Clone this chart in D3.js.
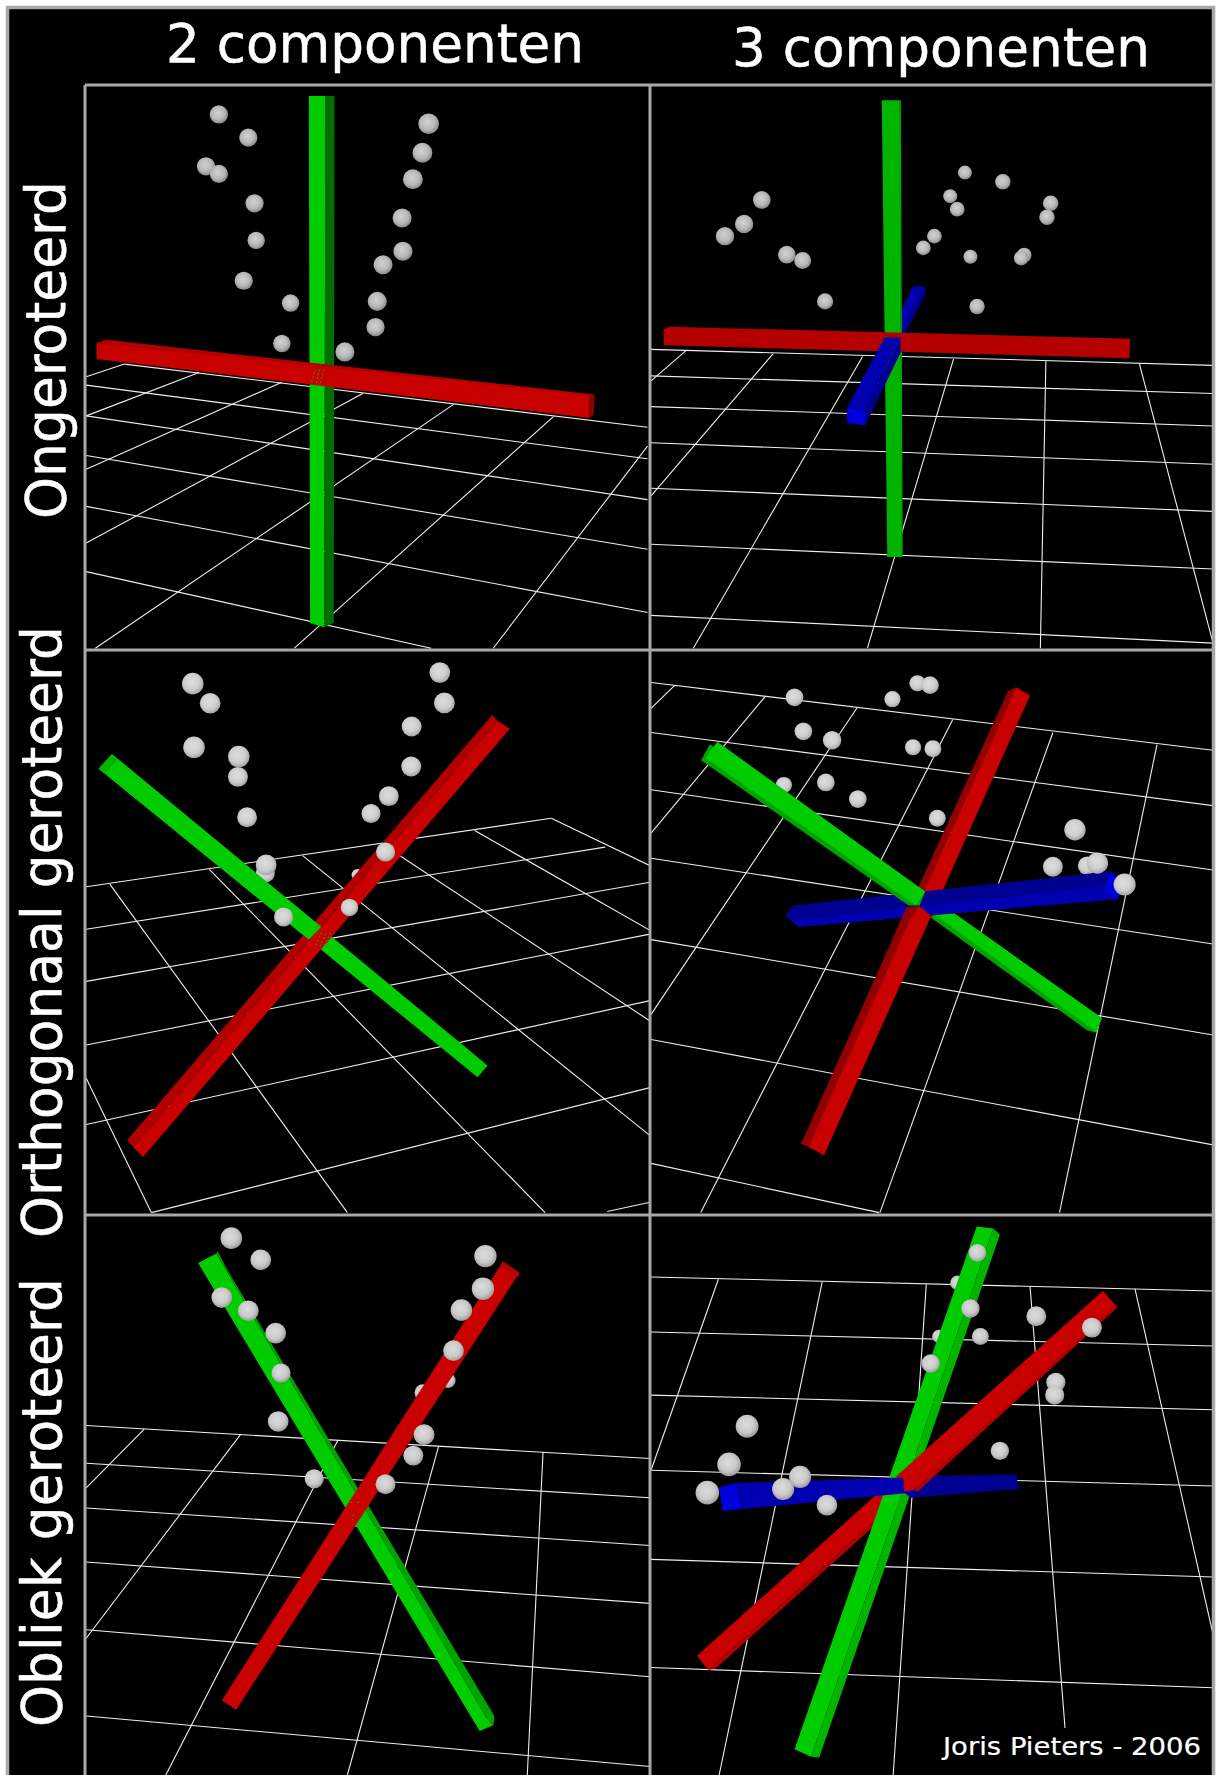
<!DOCTYPE html>
<html>
<head>
<meta charset="utf-8">
<script src="https://cdn.jsdelivr.net/npm/d3@7"></script>
<style>
  html, body { margin: 0; padding: 0; background: #fff; }
  svg { display: block; }
  text { font-family: "DejaVu Sans", sans-serif; fill: #fff; stroke: #fff; stroke-width: 0.5px; }
</style>
</head>
<body>
<div id="chart"></div>
<script>
var colLabels = ["2 componenten", "3 componenten"];
var rowLabels = ["Ongeroteerd", "Orthogonaal geroteerd", "Obliek geroteerd"];
var credit = "Joris Pieters - 2006";

// spheres: [x, y, r]
var back00 = [];
var front00 = [[528,272,22],[599,327,22],[497,395,22],[528,413,22],[614,483,22],[618,571,21],[588,667,22],[701,720,21],[680,816,21],[832,836,23],[906,777,22],[910,716,23],[924,629,23],[972,597,23],[970,518,23],[996,426,24],[1019,363,24],[1034,294,25]];
var back01 = [];
var front01 = [[331,475,24],[283,532,25],[231,561,25],[399,605,24],[442,619,23],[503,716,22],[883,410,19],[986,432,21],[843,466,19],[862,497,20],[1116,483,21],[1106,516,21],[800,561,20],[770,589,20],[898,610,19],[1044,606,20],[1036,613,20],[916,728,21]];
var back10 = [[640,630,23],[642,608,25],[862,635,14]];
var front10 = [[465,118,26],[507,171,25],[1061,88,25],[1072,170,25],[468,290,26],[576,315,26],[574,370,24],[993,234,24],[992,342,24],[938,422,24],[895,469,23],[596,479,24],[930,573,23],[843,723,21],[684,749,23]];
var back11 = [[391,392,22],[1215,610,25]];
var front11 = [[420,155,24],[686,160,22],[754,117,22],[788,122,24],[444,247,24],[522,271,25],[742,290,22],[796,294,23],[505,385,24],[592,430,24],[808,482,23],[1182,513,29],[1122,613,27],[1243,603,29],[1317,661,30]];
var back20 = [[1081,492,18],[1020,525,20]];
var front20 = [[558,104,26],[629,163,25],[535,266,25],[599,302,25],[665,363,25],[678,472,23],[671,604,25],[758,760,23],[1171,153,27],[1165,242,27],[1113,300,26],[1094,411,25],[1023,640,25],[997,697,24],[930,775,24]];
var back21 = [[863,226,20],[812,372,18]];
var front21 = [[917,144,24],[898,296,25],[1077,317,27],[925,372,23],[790,446,25],[1228,348,27],[1130,497,26],[1127,532,26],[291,617,31],[242,721,32],[183,798,32],[978,684,25],[508,832,28],[435,755,30],[389,788,30]];

// floor grid: [x1, y1, x2, y2]
var grid00 = [[300,865,1562,1015],[208,915,1562,1090],[208,988,1562,1187],[208,1082,1562,1305],[208,1203,1562,1455],[208,1358,1040,1540],
  [208,895,300,865],[208,988,480,885],[208,1115,680,908],[208,1290,875,935],[230,1540,1095,960],[710,1540,1335,990],[1190,1540,1562,1060]];
var grid01 = [[30,830,1558,868],[30,893,1558,935],[30,966,1558,1012],[30,1052,1558,1103],[30,1160,1558,1215],[30,1293,1558,1352],[30,1462,1558,1528],
  [30,905,125,833],[30,1178,362,840],[145,1540,605,847],[618,1540,852,853],[1088,1540,1103,858],[1558,1530,1357,864]];
var grid10 = [[208,667,1330,482],[208,782,1460,560],[208,923,1568,655],[208,1095,1568,795],[208,1310,1568,975],[365,1548,1568,1210],[1465,1545,1568,1520],
  [1330,482,1568,610],[1145,515,1568,785],[920,550,1568,1030],[730,583,1568,1340],[505,620,1315,1548],[265,660,838,1548],[208,1185,365,1548]];
var grid11 = [[30,115,1558,298],[30,250,1558,448],[30,405,1558,622],[30,590,1558,822],[30,810,1558,1068],[30,1080,1558,1365],[30,1415,650,1548],
  [30,185,95,122],[30,522,340,153],[30,1012,590,183],[165,1548,850,215],[652,1548,1122,250],[1140,1548,1405,283]];
var grid20 = [[208,615,1568,705],[208,718,1568,812],[208,840,1568,942],[208,987,1568,1100],[208,1172,1568,1300],[208,1407,1568,1545],
  [208,785,348,625],[208,1195,580,640],[400,1568,815,655],[838,1568,1058,672],[1272,1568,1310,687]];
var grid21 = [[30,210,1558,248],[30,360,1558,398],[30,532,1558,572],[30,737,1558,780],[30,980,1558,1028],[30,1275,1558,1330],
  [30,737,213,216],[215,1568,495,224],[688,1568,778,230],[1155,1440,1060,236],[1558,1188,1345,242]];

// bars: [shade name, polygon], painted in this order
var bars00 = [
  ["green", [[745,228],[785,228],[782,1490],[748,1480]]],
  ["greenDark", [[785,228],[807,228],[805,1480],[782,1490]]],
  ["redMid", [[232,815],[258,807],[1434,937],[1422,943]]],
  ["red", [[233,815],[1422,940],[1422,993],[233,853]]],
  ["redDark", [[1422,940],[1434,937],[1432,985],[1422,993]]]
];
var bars01 = [
  ["blue", [[707,745],[742,680],[772,680],[707,795]]],
  ["blueDark", [[772,680],[775,680],[775,700],[707,815],[707,795]]],
  ["greenMid", [[657,238],[706,238],[711,1323],[672,1323]]],
  ["greenShade", [[705,238],[709,238],[714,1323],[709,1323]]],
  ["redMid", [[64,783],[78,776],[1332,805],[1330,851],[65,820]]],
  ["blue", [[563,968],[665,802],[708,802],[612,975]]],
  ["blueBright", [[563,968],[612,975],[612,1010],[562,1005]]],
  ["blueDark", [[612,975],[708,802],[708,838],[612,1010]]]
];
var bars10 = [
  ["green", [[250,358],[285,325],[1176,1150],[1152,1182]]],
  ["redDim", [[307,1352],[1188,202],[1200,218],[322,1372]]],
  ["red", [[322,1372],[345,1398],[1230,240],[1200,218]]],
  ["green", [[238,348],[270,308],[775,775],[745,810]]],
  ["greenMid", [[238,348],[268,310],[283,324],[252,362]]]
];
var bars11 = [
  ["redDark", [[438,1362],[1000,138],[1022,128],[458,1370]]],
  ["red", [[458,1370],[500,1392],[1060,150],[1022,128]]],
  ["greenShade", [[790,750],[1215,1055],[1240,1062],[1255,1022],[820,715]]],
  ["green", [[795,738],[1222,1046],[1240,1060],[1255,1022],[820,715]]],
  ["blueDark", [[395,745],[415,718],[1280,625],[1300,700],[430,775]]],
  ["blue", [[410,758],[1270,665],[1300,700],[430,775]]],
  ["blueBright", [[1262,680],[1280,625],[1305,650],[1300,700]]],
  ["greenShade", [[166,325],[190,282],[775,680],[760,718],[730,718]]],
  ["green", [[178,318],[210,275],[775,680],[750,718]]],
  ["redDark", [[725,722],[760,720],[750,760],[690,800]]],
  ["red", [[760,720],[790,745],[500,1392],[458,1370],[700,800]]],
  ["redDark", [[438,1362],[725,722],[745,730],[458,1370]]]
];
var bars20 = [
  ["green", [[478,172],[522,146],[1172,1410],[1190,1432],[1157,1448]]],
  ["greenShade", [[525,140],[548,190],[1193,1408],[1190,1432],[1172,1410],[522,146]]],
  ["red", [[535,1365],[1213,168],[1253,198],[570,1390]]],
  ["redMid", [[1213,168],[1253,198],[1250,210],[1205,185]]]
];
var bars21 = [
  ["red", [[155,1243],[1258,248],[1292,288],[185,1282]]],
  ["redDim", [[185,1282],[1292,288],[1298,292],[205,1278]]],
  ["green", [[915,72],[960,78],[465,1518],[420,1498]]],
  ["greenMid", [[960,78],[978,95],[487,1520],[465,1518]]],
  ["blueDark", [[700,755],[1022,748],[1030,788],[735,812],[720,800]]],
  ["blue", [[215,785],[258,772],[715,757],[720,800],[225,848]]],
  ["blueBright", [[215,785],[258,772],[275,840],[225,848]]],
  ["red", [[695,755],[1258,248],[1292,288],[745,790],[718,795],[715,758]]],
  ["redDim", [[745,790],[1292,288],[1298,292],[755,795]]]
];

// green bleeding through where two bars meet: [x1, y1, x2, y2]
var bleed00 = [[752,908,760,878],[763,910,771,878],[773,910,781,878]];
var bleed01 = [];
var bleed10 = [[762,825,778,785],[772,828,788,788],[782,825,798,792]];
var bleed11 = [];
var bleed20 = [[845,825,850,825],[862,825,868,825],[850,860,856,858],[848,872,854,870]];
var bleed21 = [];

var barFill = {
  green: "#00cc00", greenMid: "#00b400", greenShade: "#00a400", greenDark: "#006f00",
  red: "#c80000", redMid: "#b40000", redDim: "#b00000", redDark: "#900000",
  blue: "#0000b0", blueDark: "#000090", blueBright: "#0000dc"
};

var width = 1217, height = 1775;
var colX = [85, 650, 1213], rowY = [85, 650, 1215, 1775];

// crop each reading grid stands for
var cells = [
  {crop: [0, 0, 650, 660], col: 0, row: 0, grid: grid00, bars: bars00, back: back00, front: front00, bleed: bleed00},
  {crop: [640, 0, 577, 660], col: 1, row: 0, grid: grid01, bars: bars01, back: back01, front: front01, bleed: bleed01},
  {crop: [0, 640, 650, 580], col: 0, row: 1, grid: grid10, bars: bars10, back: back10, front: front10, bleed: bleed10},
  {crop: [640, 640, 577, 580], col: 1, row: 1, grid: grid11, bars: bars11, back: back11, front: front11, bleed: bleed11},
  {crop: [0, 1200, 650, 575], col: 0, row: 2, grid: grid20, bars: bars20, back: back20, front: front20, bleed: bleed20},
  {crop: [640, 1200, 577, 575], col: 1, row: 2, grid: grid21, bars: bars21, back: back21, front: front21, bleed: bleed21}
];
var shine = [["#d2d2d2", "#b8b8b8", "#858585"], ["#dedede", "#cecece", "#a0a0a0"], ["#dcdcdc", "#cacaca", "#989898"]];

var svg = d3.select("#chart").append("svg")
  .attr("width", width)
  .attr("height", height);

var defs = svg.append("defs");

shine.forEach(function(stops, i) {
  var g = defs.append("radialGradient")
    .attr("id", "ball" + i)
    .attr("cx", "45%").attr("cy", "42%").attr("r", "60%");
  g.append("stop").attr("offset", "0%").attr("stop-color", stops[0]);
  g.append("stop").attr("offset", "60%").attr("stop-color", stops[1]);
  g.append("stop").attr("offset", "100%").attr("stop-color", stops[2]);
});

svg.append("rect")
  .attr("x", 6).attr("y", 6)
  .attr("width", 1209).attr("height", height - 6)
  .attr("fill", "#000");

cells.forEach(function(c, i) {
  var x = d3.scaleLinear().domain([0, 1568]).range([c.crop[0], c.crop[0] + c.crop[2]]);
  var y = d3.scaleLinear().domain([0, 1568]).range([c.crop[1], c.crop[1] + c.crop[3]]);
  var r = d3.scaleLinear().domain([0, 1568]).range([0, c.crop[2]]);

  defs.append("clipPath").attr("id", "clip" + i).append("rect")
    .attr("x", colX[c.col]).attr("y", rowY[c.row])
    .attr("width", colX[c.col + 1] - colX[c.col])
    .attr("height", rowY[c.row + 1] - rowY[c.row]);

  var cell = svg.append("g").attr("clip-path", "url(#clip" + i + ")");
  var polygon = d3.line().x(function(d) { return x(d[0]); }).y(function(d) { return y(d[1]); });

  function balls(list) {
    cell.append("g").selectAll("circle").data(list).join("circle")
      .attr("cx", function(d) { return x(d[0]); })
      .attr("cy", function(d) { return y(d[1]); })
      .attr("r", function(d) { return r(d[2]); })
      .attr("fill", "url(#ball" + c.row + ")");
  }

  cell.append("g").selectAll("line").data(c.grid).join("line")
    .attr("x1", function(d) { return x(d[0]); })
    .attr("y1", function(d) { return y(d[1]); })
    .attr("x2", function(d) { return x(d[2]); })
    .attr("y2", function(d) { return y(d[3]); })
    .attr("stroke", "#eee")
    .attr("stroke-width", 1.1);

  balls(c.back);

  cell.append("g").selectAll("path").data(c.bars).join("path")
    .attr("d", function(d) { return polygon(d[1]) + "Z"; })
    .attr("fill", function(d) { return barFill[d[0]]; });

  cell.append("g").selectAll("line").data(c.bleed).join("line")
    .attr("x1", function(d) { return x(d[0]); })
    .attr("y1", function(d) { return y(d[1]); })
    .attr("x2", function(d) { return x(d[2]); })
    .attr("y2", function(d) { return y(d[3]); })
    .attr("stroke", "#3c9400")
    .attr("stroke-width", 1)
    .attr("stroke-dasharray", "2 2");

  balls(c.front);
});

// credit sits on its own black patch, the grid stops above it
svg.append("rect")
  .attr("x", 935).attr("y", 1729)
  .attr("width", 276).attr("height", 43)
  .attr("fill", "#000");

svg.append("text")
  .attr("x", 943).attr("y", 1755)
  .attr("font-size", 25)
  .attr("textLength", 258)
  .attr("lengthAdjust", "spacingAndGlyphs")
  .style("stroke-width", "0.2px")
  .text(credit);

// column and row titles
var colTitle = d3.scaleOrdinal().domain(colLabels).range([[166, 62, 418], [732, 66, 418]]);
svg.append("g").selectAll("text").data(colLabels).join("text")
  .attr("x", function(d) { return colTitle(d)[0]; })
  .attr("y", function(d) { return colTitle(d)[1]; })
  .attr("font-size", 53)
  .attr("textLength", function(d) { return colTitle(d)[2]; })
  .attr("lengthAdjust", "spacingAndGlyphs")
  .text(function(d) { return d; });

var rowTitle = d3.scaleOrdinal().domain(rowLabels).range([[65, 519, 338], [61, 1238, 612], [61, 1727, 449]]);
svg.append("g").selectAll("text").data(rowLabels).join("text")
  .attr("transform", function(d) { return "translate(" + rowTitle(d)[0] + "," + rowTitle(d)[1] + ") rotate(-90)"; })
  .attr("font-size", 56)
  .attr("textLength", function(d) { return rowTitle(d)[2]; })
  .attr("lengthAdjust", "spacingAndGlyphs")
  .text(function(d) { return d; });

// frame
var frame = svg.append("g").attr("fill", "none").attr("stroke", "#a8a8a8").attr("stroke-width", 3);
frame.append("path").attr("d", "M7.5," + height + "V7.5H1213.5V" + height).attr("stroke-width", 3.5);
colX.slice(0, 2).forEach(function(px) {
  frame.append("line").attr("x1", px).attr("x2", px).attr("y1", 85).attr("y2", height);
});
rowY.slice(0, 3).forEach(function(py) {
  frame.append("line").attr("x1", 85).attr("x2", 1213).attr("y1", py).attr("y2", py);
});
</script>
</body>
</html>
